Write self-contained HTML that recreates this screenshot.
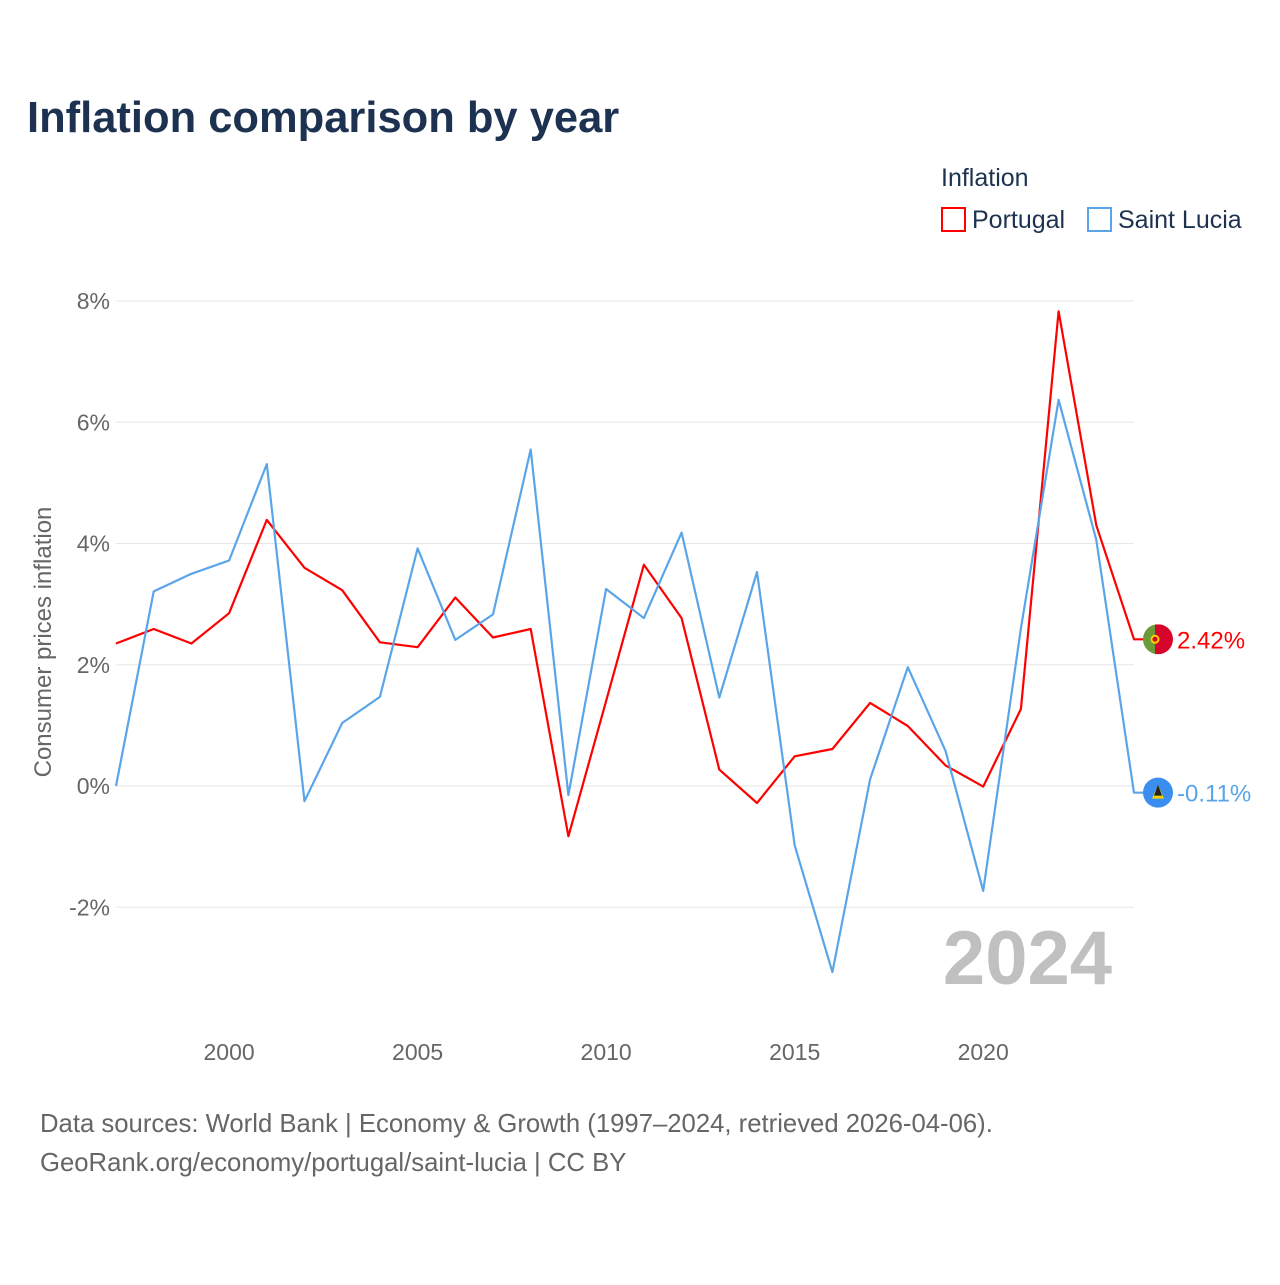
<!DOCTYPE html>
<html><head><meta charset="utf-8"><style>
body{margin:0;background:#fff;font-family:"Liberation Sans",sans-serif;}
svg text{font-family:"Liberation Sans",sans-serif;}
</style></head><body>
<svg id="chart" width="1280" height="1280" viewBox="0 0 1280 1280">
<text x="27" y="132" font-size="43.5" font-weight="bold" fill="#1c3250">Inflation comparison by year</text>
<text x="941" y="186" font-size="25" fill="#1c3250">Inflation</text>
<g><rect x="942" y="208" width="23" height="23" fill="none" stroke="#ff0000" stroke-width="2"/><text x="972" y="228" font-size="25" fill="#1c3250">Portugal</text></g>
<g><rect x="1088" y="208" width="23" height="23" fill="none" stroke="#5aa5ea" stroke-width="2"/><text x="1118" y="228" font-size="25" fill="#1c3250">Saint Lucia</text></g>
<g id="grid"></g><g id="axes"></g><g id="series"></g>
<text transform="translate(51,642) rotate(-90)" text-anchor="middle" font-size="24" fill="#666">Consumer prices inflation</text>
<text x="1112" y="984" text-anchor="end" font-size="76" font-weight="bold" fill="#c0c0c0">2024</text>
<text x="40" y="1132" font-size="25.7" fill="#666">Data sources: World Bank | Economy &amp; Growth (1997–2024, retrieved 2026-04-06).</text>
<text x="40" y="1171" font-size="25.7" fill="#666">GeoRank.org/economy/portugal/saint-lucia | CC BY</text>
</svg>
<script>
const years=[1997,1998,1999,2000,2001,2002,2003,2004,2005,2006,2007,2008,2009,2010,2011,2012,2013,2014,2015,2016,2017,2018,2019,2020,2021,2022,2023,2024];
const portugal=[2.35,2.59,2.35,2.85,4.39,3.6,3.23,2.37,2.29,3.11,2.45,2.59,-0.83,1.4,3.65,2.77,0.27,-0.28,0.49,0.61,1.37,0.99,0.34,-0.01,1.27,7.83,4.3,2.42];
const saintLucia=[0.0,3.21,3.5,3.72,5.31,-0.25,1.04,1.47,3.92,2.41,2.83,5.55,-0.15,3.25,2.77,4.18,1.46,3.53,-0.98,-3.07,0.11,1.96,0.58,-1.73,2.6,6.37,4.06,-0.11];
const yTicks=[-2,0,2,4,6,8];
const xTicks=[2000,2005,2010,2015,2020];
const X=y=>116+(y-1997)*(1134-116)/27;
const Y=v=>786-v*60.625;
const NS="http://www.w3.org/2000/svg";
function mk(tag,attrs,parent,txt){const e=document.createElementNS(NS,tag);for(const k in attrs)e.setAttribute(k,attrs[k]);if(txt!=null)e.textContent=txt;document.getElementById(parent).appendChild(e);return e;}
yTicks.forEach(t=>{
 const l=mk('line',{x1:116,x2:1134,y1:Y(t),y2:Y(t),stroke:'#e6e6e6','stroke-width':1},'grid');
 
 
 const tx=mk('text',{x:110,y:Y(t)+8,'text-anchor':'end','font-size':23,fill:'#666'},'axes',t+'%');
 
 
});
xTicks.forEach(t=>{
 const tx=mk('text',{x:X(t),y:1060,'text-anchor':'middle','font-size':23,fill:'#666'},'axes',String(t));
 
 
});
function series(vals,color,name){
 let d=vals.map((v,i)=>(i?'L':'M')+X(years[i]).toFixed(1)+' '+Y(v).toFixed(1)).join(' ');
 const last=vals[vals.length-1];
 d+=' L1146 '+Y(last).toFixed(1);
 const p=mk('path',{d:d,fill:'none',stroke:color,'stroke-width':2.2,'stroke-linejoin':'round'},'series');
 
 
 return Y(last);
}
const yp=series(portugal,'#ff0000','portugal');
const ys=series(saintLucia,'#5aa5ea','saint-lucia');
const g1=mk('g',{},'series');


g1.innerHTML=`<clipPath id="cp1"><circle cx="1158" cy="${yp}" r="15"/></clipPath><g clip-path="url(#cp1)"><rect x="1143" y="${yp-15}" width="12" height="30" fill="#6a9a3a"/><rect x="1155" y="${yp-15}" width="18" height="30" fill="#d7042b"/></g><circle cx="1155" cy="${yp}" r="4.5" fill="#f5d000"/><circle cx="1155" cy="${yp}" r="2.5" fill="#d7042b"/>`;
const t1=mk('text',{x:1177,y:yp+9,'font-size':24,fill:'#ff0000'},'series',portugal[portugal.length-1].toFixed(2)+'%');


const g2=mk('g',{},'series');


g2.innerHTML=`<circle cx="1158" cy="${ys}" r="15" fill="#3a8ef0"/><polygon points="1158,${ys-8} 1164,${ys+6} 1152,${ys+6}" fill="#f5d000"/><polygon points="1158,${ys-8} 1162,${ys+3} 1154,${ys+3}" fill="#222"/>`;
const t2=mk('text',{x:1177,y:ys+9,'font-size':24,fill:'#5aa5ea'},'series',saintLucia[saintLucia.length-1].toFixed(2)+'%');


</script>
</body></html>
